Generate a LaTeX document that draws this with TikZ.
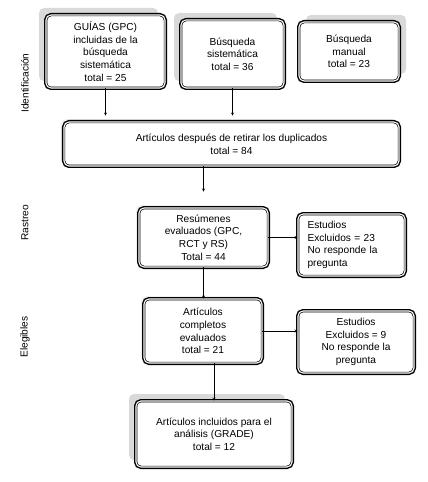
\documentclass[tikz,border=0pt]{standalone}
\usepackage{fontspec}
\setmainfont{Liberation Sans}
\usetikzlibrary{arrows, positioning, calc, shadows}

\begin{document}
\begin{tikzpicture}[
        x=1bp, y=-1bp,
        font=\fontsize{10.2}{12.7}\selectfont,
        box/.style={rectangle, rounded corners=5bp, preaction={draw=black, line width=4bp}, draw=black, line width=0.7bp, double=white, double distance=1.1bp, fill=white, align=center, inner sep=2bp},
        shade ul/.style={general shadow={fill=gray!30, shadow xshift=-7bp, shadow yshift=7bp}},
        shade ur/.style={general shadow={fill=gray!30, shadow xshift=7bp, shadow yshift=7bp}},
        shade lt/.style={general shadow={fill=gray!12, shadow xshift=-3bp, shadow yshift=3bp}},
        phase/.style={rotate=90, anchor=center},
        arrow/.style={->, >=stealth, thin, black}
    ]
        \useasboundingbox (0,0) rectangle (427,482);
        \node[shade ul, box, minimum width=119bp, minimum height=73bp] (src1) at (105.5,51.5) {GUÍAS (GPC)\\incluidas de la\\búsqueda\\sistemática\\total = 25};
        \node[shade ul, box, minimum width=103bp, minimum height=68bp] (src2) at (232.5,54) {Búsqueda\\sistemática\\total = 36};
        \node[shade ur, box, minimum width=100bp, minimum height=59bp] (src3) at (349,51.5) {Búsqueda\\manual\\total = 23};
        \node[shade lt, box, minimum width=335bp, minimum height=44bp] (dup) at (231.5,144) {Artículos después de retirar los duplicados\\total = 84};
        \node[shade lt, box, minimum width=129bp, minimum height=59bp] (scr) at (203.5,237.5) {Resúmenes\\evaluados (GPC,\\RCT y RS)\\Total = 44};
        \node[box, minimum width=107bp, minimum height=62bp, text width=88bp, align=left] (exc1) at (351.5,245) {Estudios\\Excluidos = 23\\No responde la\\pregunta};
        \node[shade lt, box, minimum width=118bp, minimum height=64bp] (full) at (203,331) {Artículos\\completos\\evaluados\\total = 21};
        \node[box, minimum width=116bp, minimum height=62bp] (exc2) at (356,342) {Estudios\\Excluidos = 9\\No responde la\\pregunta};
        \node[shade ul, box, minimum width=156bp, minimum height=66bp] (inc) at (214,434) {Artículos incluidos para el\\análisis (GRADE)\\total = 12};
        \node[phase] (ph1) at (25,83) {Identificación};
        \node[phase] (ph2) at (25,223) {Rastreo};
        \node[phase] (ph3) at (25,337) {Elegibles};
        \draw[arrow, shorten >=6bp] (src1.south) -- (src1.south |- dup.north);
        \draw[arrow, shorten >=6bp] (src2.south) -- (src2.south |- dup.north);
        \draw[arrow, shorten >=16bp] (dup.south -| scr.north) -- (scr.north);
        \draw[arrow] (scr.east) -- (exc1.west |- scr.east);
        \draw[arrow] (scr.south) -- (full.north -| scr.south);
        \draw[arrow] (full.east) -- (exc2.west |- full.east);
        \draw[arrow] (full.south -| inc.north) -- (inc.north);
    \end{tikzpicture}
\end{document}
